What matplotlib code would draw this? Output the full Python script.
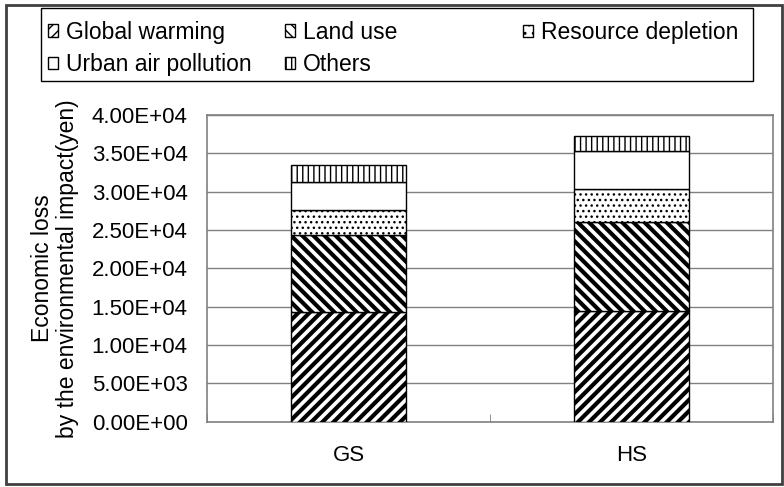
import matplotlib.pyplot as plt
from matplotlib.patches import Rectangle, Patch

plt.rcParams['font.family'] = ['Liberation Sans', 'DejaVu Sans']
plt.rcParams['hatch.color'] = 'black'

scenarios = ['GS', 'HS']
global_warming = [14300, 14500]
land_use = [10000, 11500]
resource_depletion = [3300, 4300]
urban_air = [3700, 5000]
others = [2200, 2000]

series = [
    ('Global warming', global_warming, '///', 3.0),
    ('Land use', land_use, '\\\\\\', 3.0),
    ('Resource depletion', resource_depletion, '...', 1.0),
    ('Urban air pollution', urban_air, '', 1.0),
    ('Others', others, '|||', 1.0),
]

fig = plt.figure(figsize=(7.84, 4.87), dpi=100)
ax = fig.add_axes([207 / 784, 1 - 421.7 / 487, 566 / 784, 306.7 / 487])

x = range(len(scenarios))
bottom = [0] * len(scenarios)
handles = {}
for name, vals, hatch, hlw in series:
    bars = ax.bar(x, vals, width=0.405, bottom=bottom, color='white',
                  edgecolor='black', linewidth=1.0, hatch=hatch, zorder=3)
    for b in bars:
        if hasattr(b, 'set_hatch_linewidth'):
            b.set_hatch_linewidth(hlw)
    handles[name] = Patch(facecolor='white', edgecolor='black',
                          hatch=hatch.replace('...', '..'), linewidth=1.0)
    bottom = [b0 + v for b0, v in zip(bottom, vals)]

ax.set_xlim(-0.5, 1.5)
ax.set_ylim(0, 40000)
ax.set_yticks(range(0, 40001, 5000))
ax.set_yticklabels(['%.2E' % v for v in range(0, 40001, 5000)], fontsize=16)
ax.set_xticks(list(x))
ax.set_xticklabels(scenarios, fontsize=16)
ax.tick_params(axis='x', length=0, pad=17)
ax.tick_params(axis='y', length=0, pad=14)
ax.set_xticks([-0.5, 0.5, 1.5], minor=True)
ax.tick_params(axis='x', which='minor', direction='in', length=6,
               color='#808080')
ax.grid(axis='y', color='#808080', linewidth=1.0, zorder=0)
for s in ax.spines.values():
    s.set_color('#808080')
    s.set_linewidth(1.2)

ax.set_ylabel('Economic loss\nby the environmental impact(yen)',
              fontsize=16.5, labelpad=9, linespacing=1.1)

# legend laid out in three columns like the original
cols = [
    (['Global warming', 'Urban air pollution'], 48, 48.5),
    (['Land use', 'Others'], 285, 48.5),
    (['Resource depletion'], 523, 32.5),
]
for names, xpos, ypos in cols:
    fig.legend([handles[n] for n in names], names,
               loc='center left', bbox_to_anchor=(xpos / 784, 1 - ypos / 487),
               frameon=False, fontsize=16.5, handlelength=0.45,
               handleheight=0.45, handletextpad=0.32,
               labelspacing=0.42, borderpad=0, borderaxespad=0)

fig.patches.append(Rectangle((41 / 784, 1 - 81 / 487), 712 / 784, 73 / 487,
                             transform=fig.transFigure, fill=False,
                             edgecolor='black', linewidth=1.0))
fig.patches.append(Rectangle((6 / 784, 3 / 487), 776 / 784, 479 / 487,
                             transform=fig.transFigure, fill=False,
                             edgecolor='#404040', linewidth=2.0))

fig.savefig('out.png', dpi=100)
